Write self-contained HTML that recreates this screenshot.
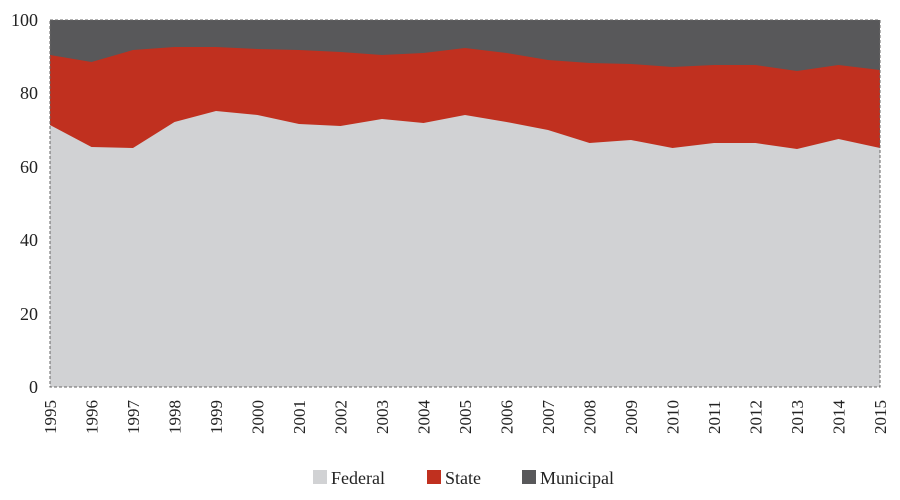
<!DOCTYPE html>
<html><head><meta charset="utf-8"><style>
body{margin:0;background:#fff;}
svg text{font-family:"Liberation Serif",serif;fill:#222;}
</style></head><body>
<svg width="900" height="495" viewBox="0 0 900 495" xmlns="http://www.w3.org/2000/svg">
<rect x="50" y="20" width="830" height="367" fill="#58585a"/>
<polygon fill="#c0301f" points="50,55 91.5,62 133,50 174.5,47 216,47 257.5,49 299,50 340.5,52 382,55 423.5,53 465,48 506.5,53 548,60 589.5,63 631,64 672.5,67 714,65 755.5,65 797,71 838.5,65 880,70 880,387 50,387"/>
<polygon fill="#d1d2d4" points="50,125 91.5,147 133,148 174.5,122 216,111 257.5,115 299,124 340.5,126 382,119 423.5,123 465,115 506.5,122 548,130 589.5,143 631,140 672.5,148 714,143 755.5,143 797,149 838.5,139 880,148 880,387 50,387"/>
<rect x="50" y="20" width="830" height="367" fill="none" stroke="#666" stroke-width="1" stroke-dasharray="3,2"/>
<g font-size="18" text-anchor="end">
<text x="38" y="393">0</text><text x="38" y="320">20</text><text x="38" y="246">40</text>
<text x="38" y="173">60</text><text x="38" y="99">80</text><text x="38" y="26">100</text>
</g>
<g font-size="17">
<text transform="translate(56,434) rotate(-90)">1995</text>
<text transform="translate(97.5,434) rotate(-90)">1996</text>
<text transform="translate(139,434) rotate(-90)">1997</text>
<text transform="translate(180.5,434) rotate(-90)">1998</text>
<text transform="translate(222,434) rotate(-90)">1999</text>
<text transform="translate(263.5,434) rotate(-90)">2000</text>
<text transform="translate(305,434) rotate(-90)">2001</text>
<text transform="translate(346.5,434) rotate(-90)">2002</text>
<text transform="translate(388,434) rotate(-90)">2003</text>
<text transform="translate(429.5,434) rotate(-90)">2004</text>
<text transform="translate(471,434) rotate(-90)">2005</text>
<text transform="translate(512.5,434) rotate(-90)">2006</text>
<text transform="translate(554,434) rotate(-90)">2007</text>
<text transform="translate(595.5,434) rotate(-90)">2008</text>
<text transform="translate(637,434) rotate(-90)">2009</text>
<text transform="translate(678.5,434) rotate(-90)">2010</text>
<text transform="translate(720,434) rotate(-90)">2011</text>
<text transform="translate(761.5,434) rotate(-90)">2012</text>
<text transform="translate(803,434) rotate(-90)">2013</text>
<text transform="translate(844.5,434) rotate(-90)">2014</text>
<text transform="translate(886,434) rotate(-90)">2015</text>
</g>
<rect x="313" y="470" width="14" height="14" fill="#d1d2d4"/>
<text x="331" y="484" font-size="18">Federal</text>
<rect x="427" y="470" width="14" height="14" fill="#c0301f"/>
<text x="445" y="484" font-size="18">State</text>
<rect x="522" y="470" width="14" height="14" fill="#58585a"/>
<text x="540" y="484" font-size="18">Municipal</text>
</svg>
</body></html>
